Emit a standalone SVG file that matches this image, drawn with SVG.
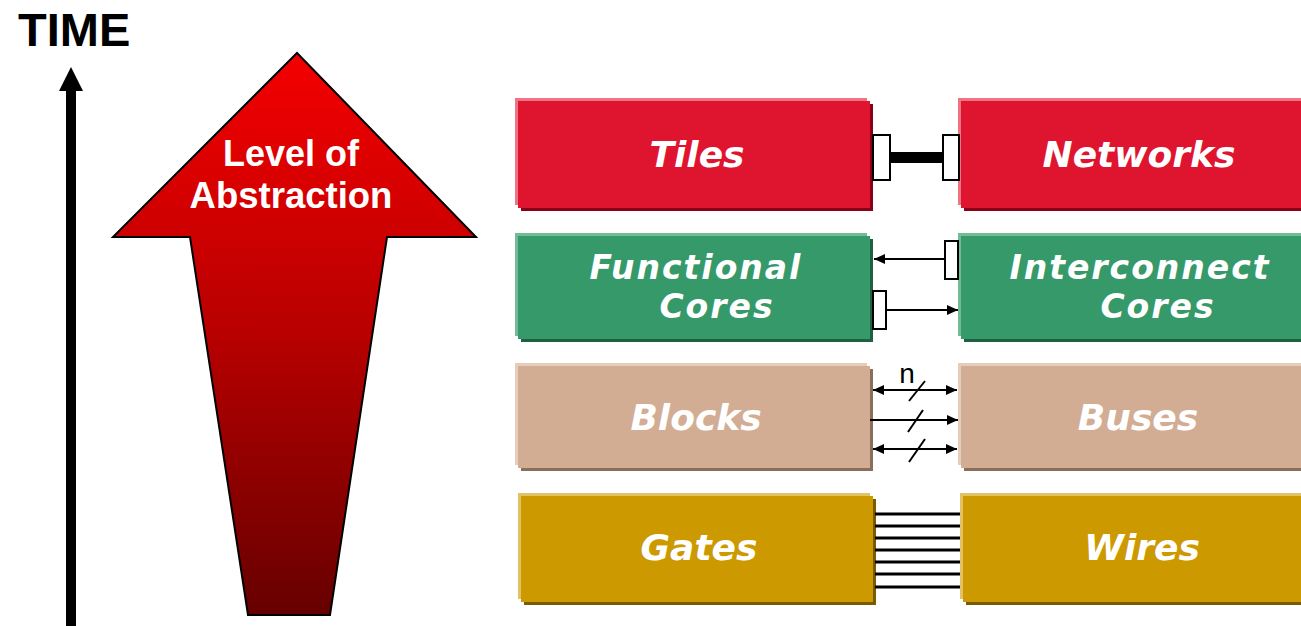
<svg xmlns="http://www.w3.org/2000/svg" width="1301" height="626" viewBox="0 0 1301 626">
<style>
.lbl{font-family:"DejaVu Sans",Verdana,sans-serif;font-weight:bold;font-style:oblique;font-size:36px;fill:#fff;text-anchor:middle}
.lbl2{font-size:33px;letter-spacing:2px}
.ln{stroke:#000;stroke-width:2;fill:none}
.wire{stroke:#000;stroke-width:3}
.conn{fill:#fff;stroke:#000;stroke-width:2}
</style>
<defs>
<linearGradient id="gArrow" x1="0" y1="53" x2="0" y2="615" gradientUnits="userSpaceOnUse">
<stop offset="0" stop-color="#f40000"/>
<stop offset="0.5" stop-color="#b80000"/>
<stop offset="1" stop-color="#660000"/>
</linearGradient>
<marker id="ah" viewBox="0 0 11 10" refX="11" refY="5" markerWidth="11" markerHeight="10" markerUnits="userSpaceOnUse" orient="auto-start-reverse">
<path d="M0,0 L11,5 L0,10 Z" fill="#000"/>
</marker>
</defs>
<rect width="1301" height="626" fill="#fff"/>

<g id="time">
<text x="18" y="46" font-family="Liberation Sans,Arial,sans-serif" font-weight="bold" font-size="47">TIME</text>
<line x1="71" y1="88" x2="71" y2="626" stroke="#000" stroke-width="10"/>
<polygon points="71,67 59,91 83,91" fill="#000"/>
</g>

<g id="abstraction">
<polygon points="297,53 476,237 387,237 330,615 248,615 190,237 113,237" fill="url(#gArrow)" stroke="#000" stroke-width="2" stroke-linejoin="miter"/>
<text font-family="Liberation Sans,Arial,sans-serif" font-weight="bold" font-size="36" fill="#fff" text-anchor="middle"><tspan x="291" y="166">Level of</tspan><tspan x="291" y="208" font-size="36.5">Abstraction</tspan></text>
</g>

<g id="tiles">
<rect x="521" y="104" width="352" height="107" fill="#8a0018"/>
<rect x="515" y="98" width="352" height="107" fill="#ee7484"/>
<rect x="518" y="101" width="352" height="107" fill="#df1530"/>
<text class="lbl" x="697" y="167">Tiles</text>
</g>
<g id="networks">
<rect x="964" y="104" width="350" height="107" fill="#8a0018"/>
<rect x="958" y="98" width="350" height="107" fill="#ee7484"/>
<rect x="961" y="101" width="350" height="107" fill="#df1530"/>
<text class="lbl" x="1139" y="167">Networks</text>
</g>

<g id="functional-cores">
<rect x="521" y="239" width="352" height="103" fill="#1f6040"/>
<rect x="515" y="233" width="352" height="103" fill="#72bb94"/>
<rect x="518" y="236" width="352" height="103" fill="#36996a"/>
<text class="lbl lbl2"><tspan x="696" y="279">Functional</tspan><tspan x="717" y="318">Cores</tspan></text>
</g>
<g id="interconnect-cores">
<rect x="964" y="239" width="350" height="103" fill="#1f6040"/>
<rect x="958" y="233" width="350" height="103" fill="#72bb94"/>
<rect x="961" y="236" width="350" height="103" fill="#36996a"/>
<text class="lbl lbl2"><tspan x="1140" y="279">Interconnect</tspan><tspan x="1158" y="318">Cores</tspan></text>
</g>

<g id="blocks">
<rect x="521" y="369" width="352" height="102" fill="#8b6e5a"/>
<rect x="515" y="363" width="352" height="102" fill="#e6cdbb"/>
<rect x="518" y="366" width="352" height="102" fill="#d2ad94"/>
<text class="lbl" x="696" y="430">Blocks</text>
</g>
<g id="buses">
<rect x="964" y="369" width="350" height="102" fill="#8b6e5a"/>
<rect x="958" y="363" width="350" height="102" fill="#e6cdbb"/>
<rect x="961" y="366" width="350" height="102" fill="#d2ad94"/>
<text class="lbl" x="1138" y="430">Buses</text>
</g>

<g id="gates">
<rect x="524" y="499" width="352" height="106" fill="#7a5c00"/>
<rect x="518" y="493" width="352" height="106" fill="#e2c264"/>
<rect x="521" y="496" width="352" height="106" fill="#cc9900"/>
<text class="lbl" x="699" y="560">Gates</text>
</g>
<g id="wires">
<rect x="966" y="499" width="350" height="106" fill="#7a5c00"/>
<rect x="960" y="493" width="350" height="106" fill="#e2c264"/>
<rect x="963" y="496" width="350" height="106" fill="#cc9900"/>
<text class="lbl" x="1142" y="560">Wires</text>
</g>

<g id="connectors">
<rect x="891" y="152" width="52" height="11" fill="#000"/>
<rect class="conn" x="873" y="135" width="17" height="45"/>
<rect class="conn" x="943" y="135" width="16" height="45"/>
<line class="ln" x1="944" y1="259" x2="874" y2="259" marker-end="url(#ah)"/>
<rect class="conn" x="945" y="241" width="13" height="38"/>
<line class="ln" x1="886" y1="310" x2="958" y2="310" marker-end="url(#ah)"/>
<rect class="conn" x="873" y="291" width="13" height="38"/>
<line class="ln" x1="873" y1="390" x2="957" y2="390" marker-start="url(#ah)" marker-end="url(#ah)"/>
<line class="ln" x1="870" y1="420" x2="958" y2="420" marker-end="url(#ah)"/>
<line class="ln" x1="873" y1="449" x2="957" y2="449" marker-start="url(#ah)" marker-end="url(#ah)"/>
<line class="ln" x1="909" y1="401" x2="925" y2="381"/>
<line class="ln" x1="908" y1="432" x2="923" y2="410"/>
<line class="ln" x1="909" y1="462" x2="925" y2="439"/>
<text x="907" y="383" font-family="Liberation Sans,Arial,sans-serif" font-size="28" text-anchor="middle">n</text>
<g class="wire">
<line x1="875" y1="514" x2="960" y2="514"/>
<line x1="875" y1="526" x2="960" y2="526"/>
<line x1="875" y1="538" x2="960" y2="538"/>
<line x1="875" y1="550" x2="960" y2="550"/>
<line x1="875" y1="562" x2="960" y2="562"/>
<line x1="875" y1="574" x2="960" y2="574"/>
<line x1="875" y1="587" x2="960" y2="587"/>
</g>
</g>
</svg>
